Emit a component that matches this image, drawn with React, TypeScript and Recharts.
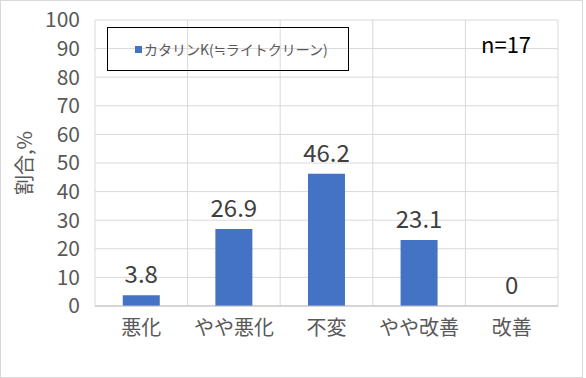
import React from 'react';
import { Bar, BarChart, CartesianGrid, LabelList, Legend, XAxis, YAxis } from 'recharts';

const categories = ['悪化', 'やや悪化', '不変', 'やや改善', '改善'];
const rates = [3.8, 26.9, 46.2, 23.1, 0];
const yTicks = [0, 10, 20, 30, 40, 50, 60, 70, 80, 90, 100];
const seriesName = 'カタリンK(≒ライトクリーン)';

const data = categories.map((name, i) => ({ name, rate: rates[i] }));

const FONT = '"Noto Sans CJK JP", "Noto Sans", sans-serif';

const LegendBox = () => (
  <div
    style={{
      width: 242,
      height: 44,
      border: '1.5px solid #000',
      display: 'flex',
      alignItems: 'center',
      paddingLeft: 27,
      boxSizing: 'border-box',
      fontFamily: FONT,
      fontSize: 14,
      color: '#595959',
    }}
  >
    <span style={{ width: 7, height: 7, background: '#4472C4', marginRight: 2 }} />
    {seriesName}
  </div>
);

const YLabel = ({ viewBox }: any) => {
  const cx = 23;
  const cy = viewBox.y + viewBox.height / 2;
  return (
    <text x={cx} y={cy} transform={`rotate(-90 ${cx} ${cy})`} textAnchor="middle" dominantBaseline="central"
      fill="#595959" fontSize={20} fontFamily={FONT}>
      割合,%
    </text>
  );
};

const App: React.FC = () => {
  return (
    <div style={{ position: 'absolute', left: 0, top: 0, width: 586, height: 378, background: '#fff' }}>
      <div style={{ position: 'absolute', left: 0, top: 0, width: 581, height: 376, border: '1px solid #d9d9d9' }} />
      <BarChart width={586} height={378} data={data} margin={{ top: 20, right: 28, bottom: 42, left: 0 }}
        barCategoryGap="30%" style={{ fontFamily: FONT }}>
        <CartesianGrid stroke="#d9d9d9" strokeWidth={1}
          verticalCoordinatesGenerator={({ offset }: any) =>
            [0, 1, 2, 3, 4, 5].map((i) => offset.left + (i * offset.width) / 5)} />
        <XAxis dataKey="name" height={30} tickSize={0} tickMargin={15} axisLine={{ stroke: '#bfbfbf' }}
          tick={{ fill: '#595959', fontSize: 20, fontFamily: FONT }} />
        <YAxis domain={[0, 100]} ticks={yTicks} interval={0} width={95} tickSize={0} tickMargin={15} axisLine={false}
          tick={{ fill: '#595959', fontSize: 21, fontFamily: FONT }} label={<YLabel />} />
        <Legend verticalAlign="middle" align="center" layout="horizontal" content={<LegendBox />}
          wrapperStyle={{ position: 'absolute', left: 107, top: 27, width: 242, height: 44 }} />
        <Bar dataKey="rate" name={seriesName} fill="#4472C4" minPointSize={0.01} isAnimationActive={false}>
          <LabelList dataKey="rate" position="top" offset={12} fill="#404040" fontSize={24} fontFamily={FONT} />
        </Bar>
      </BarChart>
      <div style={{ position: 'absolute', left: 481, top: 27, fontFamily: FONT, fontSize: 22, color: '#000' }}>n=17</div>
    </div>
  );
};

export default App;
